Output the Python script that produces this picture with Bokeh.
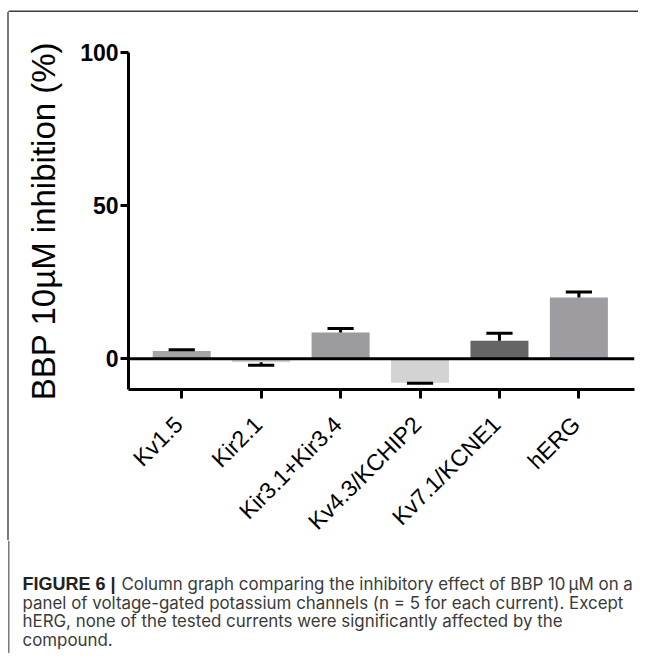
import math
from bokeh.plotting import figure
from bokeh.layouts import column, row
from bokeh.models import Range1d, FixedTicker, Span, Div
from bokeh.core.properties import value
from bokeh.embed import file_html
from bokeh.resources import INLINE

# ---- data ----
channels = ["Kv1.5", "Kir2.1", "Kir3.1+Kir3.4", "Kv4.3/KCHIP2", "Kv7.1/KCNE1", "hERG"]
inhibition = [2.6, -1.1, 8.6, -7.8, 5.9, 20.0]
sem = [0.4, 1.0, 1.3, 0.2, 2.5, 1.8]
bar_colors = ["#a5a5a5", "#d4d4d4", "#9b9a9c", "#d3d3d3", "#656565", "#9e9ca0"]
y_ticks = [0, 50, 100]
y_label = "BBP 10µM inhibition (%)"
caption_bold = "FIGURE 6 |"
caption_lines = [
    "Column graph comparing the inhibitory effect of BBP 10\u2009µM on a",
    "panel of voltage-gated potassium channels (n = 5 for each current). Except",
    "hERG, none of the tested currents were significantly affected by the",
    "compound.",
]

FONT = "Liberation Sans"
CAP_FONT = "Inter"
W, H = 638, 653
TOP_H, MID_H = 12, 528
CHART_H = 391
LAB_H = MID_H - CHART_H
CAP_H = H - TOP_H - MID_H
LEFT_W = 10
BORDER_X = 8.25
BORDER_COLOR = "#7a7a7a"
FRAME_L, FRAME_R = 118, 4


def blank(width, height, x_range=None, border_l=0, border_r=0):
    f = figure(width=width, height=height, output_backend="svg", toolbar_location=None,
               x_range=x_range if x_range is not None else Range1d(0, width),
               y_range=Range1d(height, 0),
               x_axis_type=None, y_axis_type=None, min_border=0)
    f.min_border_top = f.min_border_bottom = 0
    f.min_border_left = border_l
    f.min_border_right = border_r
    f.outline_line_color = None
    f.xgrid.visible = False
    f.ygrid.visible = False
    f.border_fill_color = "white"
    f.background_fill_color = "white"
    return f


# top strip with frame border
top = blank(W, TOP_H)
top.segment(x0=[BORDER_X], y0=[11], x1=[W], y1=[11], line_color="#3c3c3c", line_width=2)
top.segment(x0=[BORDER_X], y0=[10.5], x1=[BORDER_X], y1=[TOP_H], line_color=BORDER_COLOR, line_width=1.5)

# left border for the chart row
left = Div(text="", width=2, height=MID_H, margin=(0, 1, 0, 7),
           styles={"background-color": BORDER_COLOR})

# ---- chart ----
xs = list(range(len(channels)))
ends = [m + (e if m >= 0 else -e) for m, e in zip(inhibition, sem)]
cap_half = 0.165
xr = Range1d(-0.67, 5.7)

p = figure(width=W - LEFT_W, height=CHART_H, output_backend="svg", toolbar_location=None,
           x_range=xr, y_range=Range1d(-10, 100),
           min_border_left=FRAME_L, min_border_right=FRAME_R, min_border_top=40,
           min_border_bottom=14)
p.outline_line_color = None
p.xgrid.visible = False
p.ygrid.visible = False
p.border_fill_color = "white"
p.background_fill_color = "white"

p.vbar(x=xs, top=inhibition, bottom=0, width=0.73, fill_color=bar_colors, line_color=None)
p.segment(x0=xs, y0=inhibition, x1=xs, y1=ends, line_color="black", line_width=3)
p.segment(x0=[x - cap_half for x in xs], y0=ends, x1=[x + cap_half for x in xs], y1=ends,
          line_color="black", line_width=3)
p.add_layout(Span(location=0, dimension="width", line_color="black", line_width=3))

ya = p.yaxis[0]
ya.ticker = FixedTicker(ticks=y_ticks)
ya.minor_tick_line_color = None
ya.axis_line_width = 3
ya.major_tick_line_width = 3
ya.major_tick_out = 8
ya.major_tick_in = 0
ya.major_label_standoff = 2
ya.major_label_text_font = FONT
ya.major_label_text_font_style = "bold"
ya.major_label_text_font_size = "23px"
ya.major_label_text_color = "black"
ya.axis_label = y_label
ya.axis_label_text_font = FONT
ya.axis_label_text_font_style = "normal"
ya.axis_label_text_font_size = "33px"
ya.axis_label_text_color = "black"
ya.axis_label_standoff = 15

xa = p.xaxis[0]
xa.ticker = FixedTicker(ticks=xs)
xa.major_label_overrides = {i: "" for i in xs}
xa.major_label_text_font_size = "0px"
xa.major_label_standoff = 0
xa.minor_tick_line_color = None
xa.axis_line_width = 3
xa.major_tick_line_width = 3
xa.major_tick_out = 9
xa.major_tick_in = 0

# category labels, placed on the shared x scale, rotated 45 degrees
lab = blank(W - LEFT_W, LAB_H, x_range=xr, border_l=FRAME_L, border_r=FRAME_R)
lab.text(x=xs, y=[17] * len(xs), text=channels, angle=math.pi / 4, x_offset=-3,
         text_align="right", text_baseline="middle", text_font=value(FONT),
         text_font_size="23px", text_color="black")

# ---- caption ----
cap = blank(W, CAP_H)
cap.segment(x0=[BORDER_X], y0=[0], x1=[BORDER_X], y1=[CAP_H], line_color=BORDER_COLOR, line_width=1.5)
cap.text(x=[22], y=[43], text=[caption_bold], text_font=value(FONT), text_font_style="bold",
         text_font_size="18px", text_color="#222222", text_baseline="alphabetic")
cap.text(x=[121, 22, 22, 22], y=[43, 62, 80.5, 99], text=caption_lines,
         text_font=value(CAP_FONT), text_font_size="16.9px", text_color="#3a3a3a",
         text_baseline="alphabetic")

layout = column(top, row(left, column(p, lab, spacing=0), spacing=0), cap, spacing=0)
open("out.html", "w").write(file_html(layout, INLINE))
